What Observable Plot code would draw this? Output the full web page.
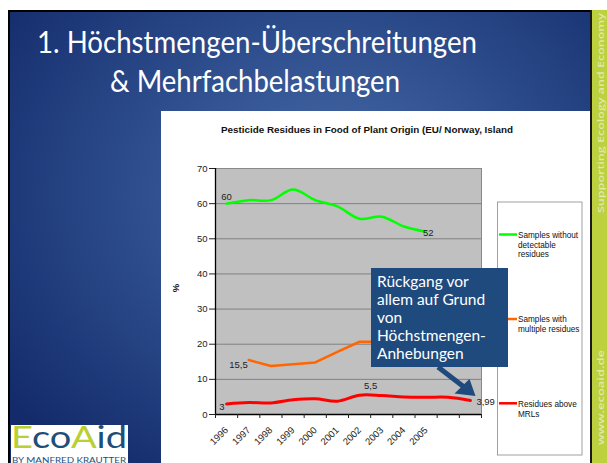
<!DOCTYPE html>
<html><head><meta charset="utf-8">
<script src="https://cdn.jsdelivr.net/npm/d3@7"></script>
<script src="https://cdn.jsdelivr.net/npm/@observablehq/plot@0.6"></script>
<style>
html,body{margin:0;padding:0;background:#fff;width:607px;height:463px;overflow:hidden;}
#slide{position:absolute;left:8px;top:10px;width:583px;height:453px;box-sizing:border-box;border-top:2.5px solid #000;border-left:2.5px solid #000;
 background:radial-gradient(ellipse 70% 75% at 55% 40%, #4a6ca8 0%, #2f4f8e 45%, #132b6b 100%);}
#band{position:absolute;left:590px;top:10px;width:17px;height:453px;background:#bdd03e;border-left:2px solid #1a1a1a;box-sizing:border-box;}
#chart{position:absolute;left:161px;top:111px;}
#overlay{position:absolute;left:0;top:0;}
</style></head><body>
<div id="slide"></div><div id="band"></div>
<div id="chart"></div>
<svg id="overlay" width="607" height="463" xmlns="http://www.w3.org/2000/svg">
  <g font-family="Lato, 'Open Sans', sans-serif" fill="#fff" font-size="31">
    <text x="37" y="53" textLength="440" lengthAdjust="spacingAndGlyphs">1. Höchstmengen-Überschreitungen</text>
    <text x="110" y="92" textLength="290" lengthAdjust="spacingAndGlyphs">&amp; Mehrfachbelastungen</text>
  </g>
  <text x="221" y="133" font-family="'Liberation Sans', Arial, sans-serif" font-weight="bold" font-size="8.6" fill="#111" textLength="292" lengthAdjust="spacingAndGlyphs">Pesticide Residues in Food of Plant Origin (EU/ Norway, Island</text>
  <text transform="translate(179,288) rotate(-90)" text-anchor="middle" font-family="'Liberation Sans', Arial, sans-serif" font-weight="bold" font-size="9.5" fill="#111">%</text>
  <!-- legend -->
  <rect x="497.5" y="202" width="84.5" height="253" fill="#fff" stroke="#a0a0a0" stroke-width="1"/>
  <g font-family="'Liberation Sans', Arial, sans-serif" font-size="8.2" fill="#111">
    <line x1="499" x2="517" y1="234.5" y2="234.5" stroke="#00ff00" stroke-width="2.5"/>
    <text x="518" y="238">Samples without</text>
    <text x="518" y="247.5">detectable</text>
    <text x="518" y="257">residues</text>
    <line x1="499" x2="517" y1="319" y2="319" stroke="#ff6600" stroke-width="2.5"/>
    <text x="518" y="322.3">Samples with</text>
    <text x="518" y="332">multiple residues</text>
    <line x1="499" x2="517" y1="403.3" y2="403.3" stroke="#ff0000" stroke-width="2.5"/>
    <text x="518" y="407">Residues above</text>
    <text x="518" y="417">MRLs</text>
  </g>
  <!-- callout -->
  <rect x="371" y="268" width="137" height="99" fill="#1f4a7e"/>
  <g font-family="Lato, 'Open Sans', sans-serif" font-size="15.5" fill="#fff">
    <text x="377" y="287">Rückgang vor</text>
    <text x="377" y="305">allem auf Grund</text>
    <text x="377" y="323">von</text>
    <text x="377" y="341">Höchstmengen-</text>
    <text x="377" y="359">Anhebungen</text>
  </g>
  <line x1="438" y1="367" x2="464" y2="387" stroke="#1f4a7e" stroke-width="5"/>
  <polygon points="475.5,396 469.5,379 454.5,393.5" fill="#1f4a7e"/>
  <!-- vertical band text -->
  <g font-family="'Open Sans', Lato, sans-serif" font-weight="600" font-size="9" fill="#dfe8ad">
    <text transform="translate(603.5,213) rotate(-90)" textLength="200" lengthAdjust="spacingAndGlyphs">Supporting Ecology and Economy</text>
    <text transform="translate(603.5,445) rotate(-90)" textLength="95" lengthAdjust="spacingAndGlyphs">www.ecoaid.de</text>
  </g>
  <!-- logo -->
  <rect x="11" y="425" width="117" height="38" fill="#fff"/>
  <text x="11" y="448" font-family="Lato, sans-serif" font-size="31" textLength="116" lengthAdjust="spacingAndGlyphs"><tspan fill="#b9cf34">E</tspan><tspan fill="#1f4e78">co</tspan><tspan fill="#b9cf34">A</tspan><tspan fill="#1f4e78">id</tspan></text>
  <text x="12" y="462.5" font-family="Lato, sans-serif" font-size="7" fill="#1f4e78" textLength="114" lengthAdjust="spacingAndGlyphs">BY MANFRED KRAUTTER</text>
</svg>
<script>
const years = ["1996","1997","1998","1999","2000","2001","2002","2003","2004","2005","2006","2007"];
const tickLabels = ["1996","1997","1998","1999","2000","2001","2002","2003","2004","2005","",""];
const noResidues    = [60, 61, 61, 64, 61, 59.2, 55.7, 56.3, 53.5, 52, null, null];
const multiResidues = [null, 15.5, 13.8, 14.3, 14.8, 17.8, 20.7, 20.7, 21, 22, null, null];
const aboveMRL      = [3, 3.4, 3.3, 4.2, 4.5, 3.8, 5.5, 5.4, 5.0, 4.9, 4.9, 3.99];
const yTicks = [0, 10, 20, 30, 40, 50, 60, 70];
const gridValues = [10, 20, 30, 40, 50, 60];

const rows = s => years.map((y, i) => ({x: i + 0.5, v: s[i]})).filter(d => d.v != null);
const pt = (s, i) => [{x: i + 0.5, v: s[i], t: String(s[i]).replace(".", ",")}];
const tickRows = tickLabels.map((t, i) => ({x: i + 0.5, t}));

const chart = Plot.plot({
  width: 429, height: 352,
  marginLeft: 54, marginRight: 109, marginTop: 57, marginBottom: 49,
  x: {domain: [0, years.length], axis: null, label: null},
  y: {domain: [0, 70], axis: null, label: null},
  style: {background: "#fff", fontFamily: "'Liberation Sans', Arial, sans-serif", fontSize: "9.5px", color: "#222", overflow: "visible"},
  marks: [
    Plot.frame({fill: "#c0c0c0", stroke: "#888"}),
    Plot.ruleY(gridValues, {stroke: "#808080", strokeWidth: 1}),
    Plot.ruleX([0], {stroke: "#000", strokeWidth: 1.3}),
    Plot.ruleY([0], {stroke: "#000", strokeWidth: 1.3}),
    Plot.axisY(yTicks, {tickSize: 6, tickPadding: 2, label: null, color: "#222", fontSize: 9.5}),
    Plot.axisX(d3.range(0, years.length + 1), {tickSize: 4, tickFormat: () => "", label: null, color: "#222"}),
    Plot.text(tickRows, {x: "x", text: "t", frameAnchor: "bottom", rotate: -45, textAnchor: "end", lineAnchor: "middle", dy: 14, fill: "#222", fontSize: 9.5}),
    Plot.line(rows(noResidues), {x: "x", y: "v", stroke: "#00ff00", strokeWidth: 2.5, curve: "catmull-rom"}),
    Plot.line(rows(multiResidues), {x: "x", y: "v", stroke: "#ff6600", strokeWidth: 2.5, curve: "linear"}),
    Plot.line(rows(aboveMRL), {x: "x", y: "v", stroke: "#ff0000", strokeWidth: 3, curve: "catmull-rom"}),
    Plot.text(pt(noResidues, 0), {x: "x", y: "v", text: "t", dy: -7, fill: "#222"}),
    Plot.text(pt(noResidues, 9), {x: "x", y: "v", text: "t", textAnchor: "start", dx: -3, dy: 1, fill: "#222"}),
    Plot.text(pt(multiResidues, 1), {x: "x", y: "v", text: "t", textAnchor: "end", dx: -1, dy: 5, fill: "#222"}),
    Plot.text(pt(aboveMRL, 0), {x: "x", y: "v", text: "t", textAnchor: "end", dx: -2, dy: 3, fill: "#222"}),
    Plot.text(pt(aboveMRL, 6), {x: "x", y: "v", text: "t", dx: 11, dy: -9, fill: "#222"}),
    Plot.text(pt(aboveMRL, 11), {x: "x", y: "v", text: "t", textAnchor: "start", dx: 6, dy: 1, fill: "#222"})
  ]
});
document.getElementById("chart").append(chart);
</script>
</body></html>
